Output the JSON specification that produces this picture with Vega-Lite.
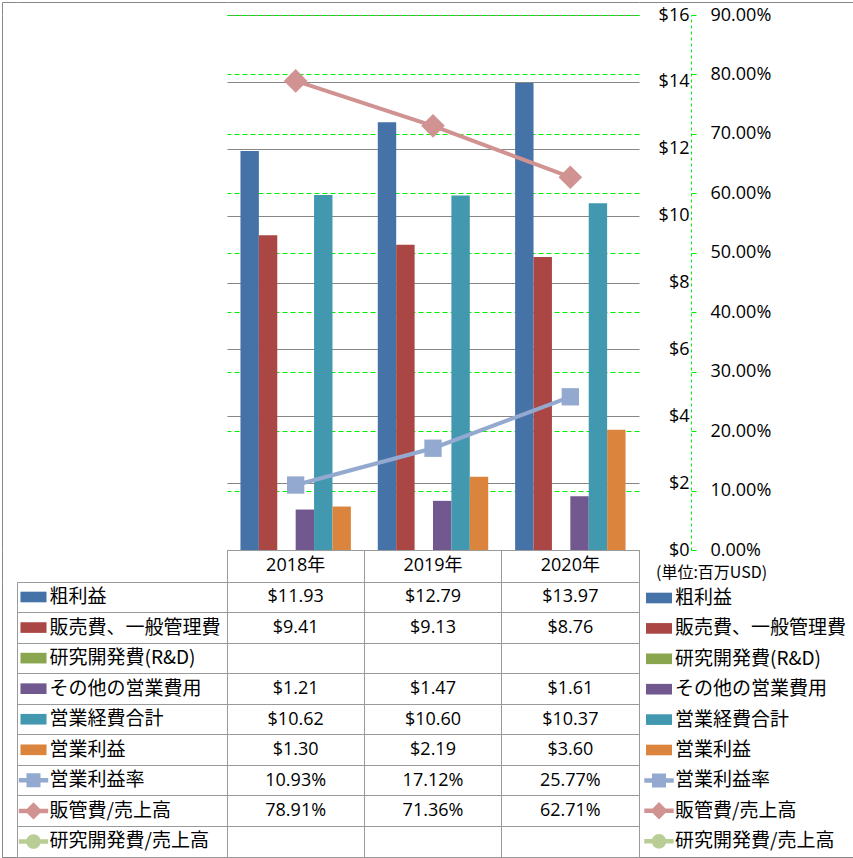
{
  "$schema": "https://vega.github.io/schema/vega-lite/v6.json",
  "padding": {"left": 1, "top": 1, "right": 0, "bottom": 0},
  "background": "white",
  "config": {"view": {"stroke": null}, "font": "Open Sans"},
  "datasets": {
    "fin": [
      {"year": "2018年", "series": "粗利益", "value": 11.93},
      {"year": "2019年", "series": "粗利益", "value": 12.79},
      {"year": "2020年", "series": "粗利益", "value": 13.97},
      {"year": "2018年", "series": "販売費、一般管理費", "value": 9.41},
      {"year": "2019年", "series": "販売費、一般管理費", "value": 9.13},
      {"year": "2020年", "series": "販売費、一般管理費", "value": 8.76},
      {"year": "2018年", "series": "その他の営業費用", "value": 1.21},
      {"year": "2019年", "series": "その他の営業費用", "value": 1.47},
      {"year": "2020年", "series": "その他の営業費用", "value": 1.61},
      {"year": "2018年", "series": "営業経費合計", "value": 10.62},
      {"year": "2019年", "series": "営業経費合計", "value": 10.60},
      {"year": "2020年", "series": "営業経費合計", "value": 10.37},
      {"year": "2018年", "series": "営業利益", "value": 1.30},
      {"year": "2019年", "series": "営業利益", "value": 2.19},
      {"year": "2020年", "series": "営業利益", "value": 3.60},
      {"year": "2018年", "series": "営業利益率", "value": 0.1093},
      {"year": "2019年", "series": "営業利益率", "value": 0.1712},
      {"year": "2020年", "series": "営業利益率", "value": 0.2577},
      {"year": "2018年", "series": "販管費/売上高", "value": 0.7891},
      {"year": "2019年", "series": "販管費/売上高", "value": 0.7136},
      {"year": "2020年", "series": "販管費/売上高", "value": 0.6271}
    ],
    "years": [{"year": "2018年"}, {"year": "2019年"}, {"year": "2020年"}],
    "none": []
  },
  "spacing": 0,
  "bounds": "flush",
  "align": "each",
  "columns": 4,
  "resolve": {"scale": {"color": "independent", "shape": "independent"}},
  "concat": [
    {"width": 15, "height": 13, "view": {"stroke": "#888888", "strokeDash": [15, 28, 13, 0]}, "data": {"name": "none"}, "mark": {"type": "point", "opacity": 0}},
    {"width": 210, "height": 13, "view": {"stroke": "#888888", "strokeDash": [210, 236]}, "data": {"name": "none"}, "mark": {"type": "point", "opacity": 0}},
    {"width": 412, "height": 13, "view": {"stroke": "#888888", "strokeDash": [412, 438]}, "data": {"name": "none"}, "mark": {"type": "point", "opacity": 0}},
    {"width": 214, "height": 13, "view": {"stroke": "#888888", "strokeDash": [227, 227]}, "data": {"name": "none"}, "mark": {"type": "point", "opacity": 0}},

    {"width": 15, "height": 535, "view": {"stroke": "#888888", "strokeDash": [0, 565, 535, 0]}, "data": {"name": "none"}, "mark": {"type": "point", "opacity": 0}},
    {"width": 210, "height": 535, "data": {"name": "none"}, "mark": {"type": "point", "opacity": 0}},
    {
      "width": 412,
      "height": 535,
      "data": {"name": "fin"},
      "encoding": {
        "x": {"field": "year", "type": "nominal", "scale": {"type": "band", "domain": ["2018年", "2019年", "2020年"], "paddingInner": 0.196, "paddingOuter": 0.098}, "axis": null}
      },
      "layer": [
        {
          "transform": [{"filter": {"field": "series", "oneOf": ["粗利益", "販売費、一般管理費", "研究開発費(R&D)", "その他の営業費用", "営業経費合計", "営業利益"]}}],
          "mark": {"type": "bar"},
          "encoding": {
            "xOffset": {"field": "series", "type": "nominal", "scale": {"domain": ["粗利益", "販売費、一般管理費", "研究開発費(R&D)", "その他の営業費用", "営業経費合計", "営業利益"], "paddingInner": 0, "paddingOuter": 0}},
            "y": {
              "field": "value", "type": "quantitative",
              "scale": {"domain": [0, 16], "nice": false},
              "axis": {"orient": "right", "values": [0, 2, 4, 6, 8, 10, 12, 14, 16], "tickRound": true, "grid": true, "gridColor": "#868686", "gridWidth": 1, "domain": false, "ticks": false, "tickSize": 0, "labelExpr": "'$' + datum.value", "labelAlign": "right", "labelPadding": 50, "labelFont": "Open Sans", "labelFontSize": 18, "labelColor": "#000000", "labelFlush": false, "labelOverlap": false, "title": null}
            },
            "color": {
              "field": "series", "type": "nominal",
              "scale": {"domain": ["粗利益", "販売費、一般管理費", "研究開発費(R&D)", "その他の営業費用", "営業経費合計", "営業利益", "営業利益率", "販管費/売上高", "研究開発費/売上高"], "range": ["#4572A7", "#AA4643", "#89A54E", "#71588F", "#4198AF", "#DB843D", "#93A9CF", "#D19392", "#B9CD96"]},
              "legend": null
            }
          }
        },
        {
          "transform": [{"filter": {"field": "series", "oneOf": ["営業利益率", "販管費/売上高", "研究開発費/売上高"]}}],
          "encoding": {
            "y": {
              "field": "value", "type": "quantitative",
              "scale": {"domain": [0, 0.9], "nice": false},
              "axis": {"orient": "right", "offset": 52, "values": [0, 0.1, 0.2, 0.3, 0.4, 0.5, 0.6, 0.7, 0.8, 0.9], "tickRound": true, "format": ".2%", "grid": true, "gridColor": "#00ee00", "gridDash": [5, 3], "gridWidth": 1, "domain": true, "domainColor": "#00ee00", "domainDash": [3, 3], "ticks": true, "tickColor": "#00ee00", "tickSize": 5, "labelPadding": 14, "labelFont": "Open Sans", "labelFontSize": 18, "labelColor": "#000000", "labelFlush": false, "labelOverlap": false, "title": null}
            },
            "color": {
              "field": "series", "type": "nominal",
              "scale": {"domain": ["粗利益", "販売費、一般管理費", "研究開発費(R&D)", "その他の営業費用", "営業経費合計", "営業利益", "営業利益率", "販管費/売上高", "研究開発費/売上高"], "range": ["#4572A7", "#AA4643", "#89A54E", "#71588F", "#4198AF", "#DB843D", "#93A9CF", "#D19392", "#B9CD96"]},
              "legend": null
            }
          },
          "layer": [
            {"mark": {"type": "line", "strokeWidth": 4}},
            {
              "mark": {"type": "point", "filled": true, "opacity": 1},
              "encoding": {
                "shape": {"field": "series", "type": "nominal", "scale": {"domain": ["営業利益率", "販管費/売上高", "研究開発費/売上高"], "range": ["square", "diamond", "circle"]}, "legend": null},
                "size": {"condition": {"test": "datum.series === '販管費/売上高'", "value": 560}, "value": 300}
              }
            }
          ]
        }
      ],
      "resolve": {"scale": {"y": "independent"}}
    },
    {"width": 214, "height": 535, "view": {"stroke": "#888888", "strokeDash": [0, 214, 535, 749]}, "data": {"name": "none"}, "mark": {"type": "point", "opacity": 0}},

    {"width": 15, "height": 32, "view": {"stroke": "#888888", "strokeDash": [0, 62, 32, 0]}, "data": {"name": "none"}, "mark": {"type": "point", "opacity": 0}},
    {"width": 210, "height": 32, "data": {"name": "none"}, "mark": {"type": "point", "opacity": 0}},
    {
      "width": 412,
      "height": 32,
      "view": {"stroke": "#9a9a9a"},
      "data": {"name": "years"},
      "mark": {"type": "text", "font": "Open Sans, Noto Sans CJK JP", "fontSize": 18, "color": "#000000"},
      "encoding": {
        "x": {"field": "year", "type": "nominal", "scale": {"type": "band", "domain": ["2018年", "2019年", "2020年"], "paddingInner": 0, "paddingOuter": 0}, "axis": {"orient": "top", "grid": true, "bandPosition": 0, "gridColor": "#9a9a9a", "domain": false, "ticks": false, "labels": false, "title": null}},
        "text": {"field": "year"}
      }
    },
    {"width": 214, "height": 32, "view": {"stroke": "#888888", "strokeDash": [0, 214, 32, 246]}, "data": {"name": "none"}, "mark": {"type": "point", "opacity": 0}},

    {"width": 15, "height": 275, "view": {"stroke": "#888888", "strokeDash": [0, 290, 290, 0]}, "data": {"name": "none"}, "mark": {"type": "point", "opacity": 0}},
    {
      "width": 210,
      "height": 275,
      "view": {"stroke": "#9a9a9a"},
      "data": {"name": "fin"},
      "mark": {"type": "point", "filled": true, "opacity": 0},
      "encoding": {
        "y": {"field": "series", "type": "nominal", "scale": {"type": "band", "domain": ["粗利益", "販売費、一般管理費", "研究開発費(R&D)", "その他の営業費用", "営業経費合計", "営業利益", "営業利益率", "販管費/売上高", "研究開発費/売上高"], "paddingInner": 0, "paddingOuter": 0}, "axis": {"orient": "left", "grid": true, "bandPosition": 0, "gridColor": "#9a9a9a", "domain": false, "ticks": false, "labels": false, "title": null}},
        "color": {
          "field": "series", "type": "nominal",
          "scale": {"domain": ["粗利益", "販売費、一般管理費", "研究開発費(R&D)", "その他の営業費用", "営業経費合計", "営業利益", "営業利益率", "販管費/売上高", "研究開発費/売上高"], "range": ["#4572A7", "#AA4643", "#89A54E", "#71588F", "#4198AF", "#DB843D", "#93A9CF", "#D19392", "#B9CD96"]},
          "legend": {"orient": "none", "legendX": 2.5, "legendY": 1, "direction": "vertical", "title": null, "symbolSize": 784, "symbolStrokeWidth": 0, "symbolOpacity": 1, "labelFont": "Noto Sans CJK JP", "labelFontSize": 19, "labelColor": "#000000", "labelLimit": 400, "labelOffset": 2, "rowPadding": 6.56, "padding": 0}
        },
        "shape": {
          "field": "series", "type": "nominal",
          "scale": {"domain": ["粗利益", "販売費、一般管理費", "研究開発費(R&D)", "その他の営業費用", "営業経費合計", "営業利益", "営業利益率", "販管費/売上高", "研究開発費/売上高"], "range": ["M-0.93,-0.38H0.93V0.38H-0.93Z", "M-0.93,-0.38H0.93V0.38H-0.93Z", "M-0.93,-0.38H0.93V0.38H-0.93Z", "M-0.93,-0.38H0.93V0.38H-0.93Z", "M-0.93,-0.38H0.93V0.38H-0.93Z", "M-0.93,-0.38H0.93V0.38H-0.93Z", "M-1.05,-0.16H1.05V0.16H-1.05Z M-0.5,-0.5H0.5V0.5H-0.5Z", "M-1.05,-0.16H1.05V0.16H-1.05Z M0,-0.62L0.62,0L0,0.62L-0.62,0Z", "M-1.05,-0.16H1.05V0.16H-1.05Z M0.52,0A0.52,0.52,0,1,1,-0.52,0A0.52,0.52,0,1,1,0.52,0Z"]},
          "legend": {"orient": "none", "legendX": 2.5, "legendY": 1, "direction": "vertical", "title": null, "symbolSize": 784, "symbolStrokeWidth": 0, "symbolOpacity": 1, "labelFont": "Noto Sans CJK JP", "labelFontSize": 19, "labelColor": "#000000", "labelLimit": 400, "labelOffset": 2, "rowPadding": 6.56, "padding": 0}
        }
      }
    },
    {
      "width": 412,
      "height": 275,
      "view": {"stroke": "#9a9a9a"},
      "data": {"name": "fin"},
      "encoding": {
        "x": {"field": "year", "type": "nominal", "scale": {"type": "band", "domain": ["2018年", "2019年", "2020年"], "paddingInner": 0, "paddingOuter": 0}, "axis": {"orient": "top", "grid": true, "bandPosition": 0, "gridColor": "#9a9a9a", "domain": false, "ticks": false, "labels": false, "title": null}},
        "y": {"field": "series", "type": "nominal", "scale": {"type": "band", "domain": ["粗利益", "販売費、一般管理費", "研究開発費(R&D)", "その他の営業費用", "営業経費合計", "営業利益", "営業利益率", "販管費/売上高", "研究開発費/売上高"], "paddingInner": 0, "paddingOuter": 0}, "axis": {"orient": "left", "grid": true, "bandPosition": 0, "gridColor": "#9a9a9a", "domain": false, "ticks": false, "labels": false, "title": null}}
      },
      "layer": [
        {
          "transform": [{"filter": {"field": "series", "oneOf": ["粗利益", "販売費、一般管理費", "研究開発費(R&D)", "その他の営業費用", "営業経費合計", "営業利益"]}}],
          "mark": {"type": "text", "font": "Open Sans", "fontSize": 18, "color": "#000000"},
          "encoding": {"text": {"field": "value", "type": "quantitative", "format": "$.2f"}}
        },
        {
          "transform": [{"filter": {"field": "series", "oneOf": ["営業利益率", "販管費/売上高", "研究開発費/売上高"]}}],
          "mark": {"type": "text", "font": "Open Sans", "fontSize": 18, "color": "#000000"},
          "encoding": {"text": {"field": "value", "type": "quantitative", "format": ".2%"}}
        }
      ]
    },
    {
      "width": 214,
      "height": 275,
      "view": {"stroke": "#888888", "strokeDash": [0, 214, 489, 275]},
      "title": {"text": "(単位:百万USD)", "anchor": "start", "dx": 17, "offset": 1, "font": "Noto Sans CJK JP", "fontSize": 16, "fontWeight": "normal", "color": "#000000"},
      "data": {"name": "fin"},
      "mark": {"type": "point", "filled": true, "opacity": 0},
      "encoding": {
        "color": {
          "field": "series", "type": "nominal",
          "scale": {"domain": ["粗利益", "販売費、一般管理費", "研究開発費(R&D)", "その他の営業費用", "営業経費合計", "営業利益", "営業利益率", "販管費/売上高", "研究開発費/売上高"], "range": ["#4572A7", "#AA4643", "#89A54E", "#71588F", "#4198AF", "#DB843D", "#93A9CF", "#D19392", "#B9CD96"]},
          "legend": {"orient": "none", "legendX": 6, "legendY": 2, "direction": "vertical", "title": null, "symbolSize": 784, "symbolStrokeWidth": 0, "symbolOpacity": 1, "labelFont": "Noto Sans CJK JP", "labelFontSize": 19, "labelColor": "#000000", "labelLimit": 400, "labelOffset": 2, "rowPadding": 6.4, "padding": 0}
        },
        "shape": {
          "field": "series", "type": "nominal",
          "scale": {"domain": ["粗利益", "販売費、一般管理費", "研究開発費(R&D)", "その他の営業費用", "営業経費合計", "営業利益", "営業利益率", "販管費/売上高", "研究開発費/売上高"], "range": ["M-0.93,-0.38H0.93V0.38H-0.93Z", "M-0.93,-0.38H0.93V0.38H-0.93Z", "M-0.93,-0.38H0.93V0.38H-0.93Z", "M-0.93,-0.38H0.93V0.38H-0.93Z", "M-0.93,-0.38H0.93V0.38H-0.93Z", "M-0.93,-0.38H0.93V0.38H-0.93Z", "M-1.05,-0.16H1.05V0.16H-1.05Z M-0.5,-0.5H0.5V0.5H-0.5Z", "M-1.05,-0.16H1.05V0.16H-1.05Z M0,-0.62L0.62,0L0,0.62L-0.62,0Z", "M-1.05,-0.16H1.05V0.16H-1.05Z M0.52,0A0.52,0.52,0,1,1,-0.52,0A0.52,0.52,0,1,1,0.52,0Z"]},
          "legend": {"orient": "none", "legendX": 6, "legendY": 2, "direction": "vertical", "title": null, "symbolSize": 784, "symbolStrokeWidth": 0, "symbolOpacity": 1, "labelFont": "Noto Sans CJK JP", "labelFontSize": 19, "labelColor": "#000000", "labelLimit": 400, "labelOffset": 2, "rowPadding": 6.4, "padding": 0}
        }
      }
    }
  ]
}
